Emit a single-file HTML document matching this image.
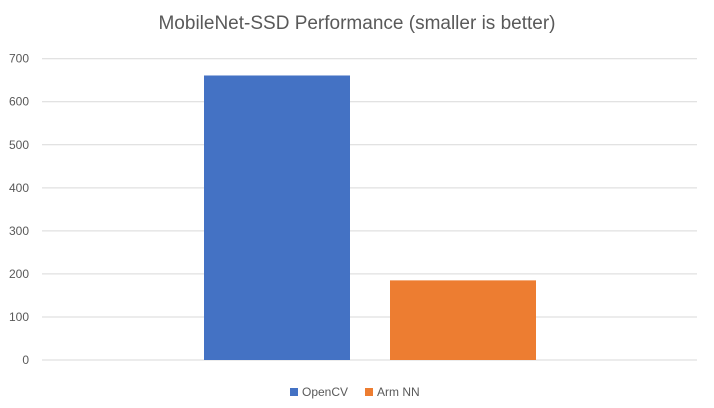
<!DOCTYPE html>
<html><head><meta charset="utf-8"><style>
body{margin:0;background:#fff}
svg{display:block;font-family:"Liberation Sans",sans-serif}
</style></head><body>
<svg id="chart" width="714" height="408">
<text x="357" y="29" text-anchor="middle" font-size="19" fill="#595959">MobileNet-SSD Performance (smaller is better)</text>
<g id="grid"></g><g id="bars"></g>
<g>
<rect x="290" y="388" width="8" height="8" fill="#4472c4"/>
<text x="302" y="396" font-size="12" fill="#595959">OpenCV</text>
<rect x="365" y="388" width="8" height="8" fill="#ed7d31"/>
<text x="377" y="396" font-size="12" fill="#595959">Arm NN</text>
</g>
</svg>
<script>
const ticks=[0,100,200,300,400,500,600,700];
const series=["OpenCV","Arm NN"];
const values=[661,185];
const colors=["#4472c4","#ed7d31"];
const NS="http://www.w3.org/2000/svg";
const y0=360,y1=58.7,yMax=700,xL=42,xR=697;
function y(v){return y0-(v/yMax)*(y0-y1);}
function x(i){return 204+i*186;}
const grid=document.getElementById('grid');
ticks.forEach(t=>{
 const l=document.createElementNS(NS,'line');
 
 
 l.setAttribute('x1',xL);l.setAttribute('x2',xR);
 l.setAttribute('y1',y(t));l.setAttribute('y2',y(t));
 l.setAttribute('stroke','#d9d9d9');l.setAttribute('stroke-width','1');
 grid.appendChild(l);
 const tx=document.createElementNS(NS,'text');
 
 
 tx.setAttribute('x',29);tx.setAttribute('y',y(t)+4);
 tx.setAttribute('text-anchor','end');tx.setAttribute('font-size','12');tx.setAttribute('fill','#595959');
 tx.textContent=t;grid.appendChild(tx);
});
const bars=document.getElementById('bars');
values.forEach((v,i)=>{
 const r=document.createElementNS(NS,'rect');
 
 
 r.setAttribute('x',x(i));r.setAttribute('width',146);
 r.setAttribute('y',y(v));r.setAttribute('height',y0-y(v));
 r.setAttribute('fill',colors[i]);
 bars.appendChild(r);
});
</script>
</body></html>
